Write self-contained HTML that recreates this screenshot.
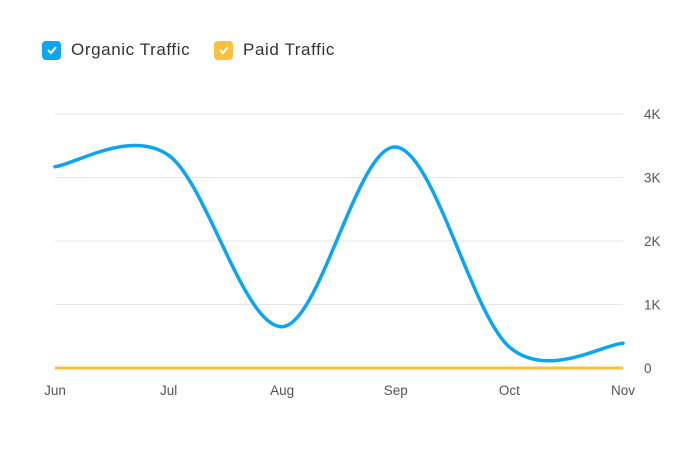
<!DOCTYPE html>
<html><head><meta charset="utf-8"><style>
body{margin:0;background:#fff;font-family:"Liberation Sans",sans-serif;}
#wrap{position:relative;width:700px;height:450px;overflow:hidden}
.leg{position:absolute;top:40px;display:flex;align-items:center;font-size:17px;letter-spacing:0.6px;color:#333}
.box{width:19px;height:19px;border-radius:4px;margin-right:10px;display:flex;align-items:center;justify-content:center}
</style></head><body>
<div id="wrap">
<div class="leg" style="left:42px"><div class="box" style="background:#0ea5f0"><svg width="12" height="10"><path d="M2 5 L5 8 L10 2" stroke="#fff" stroke-width="2" fill="none"/></svg></div><span>Organic Traffic</span></div>
<div class="leg" style="left:214px"><div class="box" style="background:#fbc03d"><svg width="12" height="10"><path d="M2 5 L5 8 L10 2" stroke="#fff" stroke-width="2" fill="none"/></svg></div><span>Paid Traffic</span></div>
<svg id="chart" width="700" height="450" style="position:absolute;left:0;top:0"></svg>
</div>
<script>
const categories=["Jun","Jul","Aug","Sep","Oct","Nov"];
const organic=[3170,3350,650,3480,330,390];
const paid=[0,0,0,0,0,0];
const yTicks=[0,1000,2000,3000,4000];
const yTickLabels=["0","1K","2K","3K","4K"];
const NS="http://www.w3.org/2000/svg";
const svg=document.getElementById('chart');
const x0=55,x1=623,yB=368,yT=114,yMax=4000;
const xs=i=>x0+(x1-x0)*i/(categories.length-1);
const ys=v=>yB-(yB-yT)*v/yMax;
function mk(t,a){const e=document.createElementNS(NS,t);for(const k in a)e.setAttribute(k,a[k]);svg.appendChild(e);return e;}
yTicks.forEach((v,i)=>{
 const g=mk('line',{x1:x0,x2:x1,y1:ys(v),y2:ys(v),stroke:'#e6e6ea','stroke-width':1});
 
 
 const t=mk('text',{x:644,y:ys(v)+5,'font-size':13.5,fill:'#555','font-family':'Liberation Sans, sans-serif'});
 t.textContent=yTickLabels[i];
 
 
});
categories.forEach((c,i)=>{
 const t=mk('text',{x:xs(i),y:395,'font-size':13.5,fill:'#555','text-anchor':'middle','font-family':'Liberation Sans, sans-serif'});
 t.textContent=c;
 
 
});
function spline(vals){
 const p=vals.map((v,i)=>[xs(i),ys(v)]);
 let d=`M${p[0][0]},${p[0][1]}`;
 for(let i=0;i<p.length-1;i++){
  const a=p[Math.max(i-1,0)],b=p[i],c=p[i+1],e=p[Math.min(i+2,p.length-1)];
  const c1=[b[0]+(c[0]-a[0])/6,b[1]+(c[1]-a[1])/6];
  const c2=[c[0]-(e[0]-b[0])/6,c[1]-(e[1]-b[1])/6];
  d+=` C${c1[0]},${c1[1]} ${c2[0]},${c2[1]} ${c[0]},${c[1]}`;
 }
 return d;
}
const pl=mk('path',{d:spline(paid),stroke:'#fbc03d','stroke-width':3,fill:'none'});


const ol=mk('path',{d:spline(organic),stroke:'#0ea5f0','stroke-width':3.5,fill:'none','stroke-linecap':'round'});


</script>
</body></html>
